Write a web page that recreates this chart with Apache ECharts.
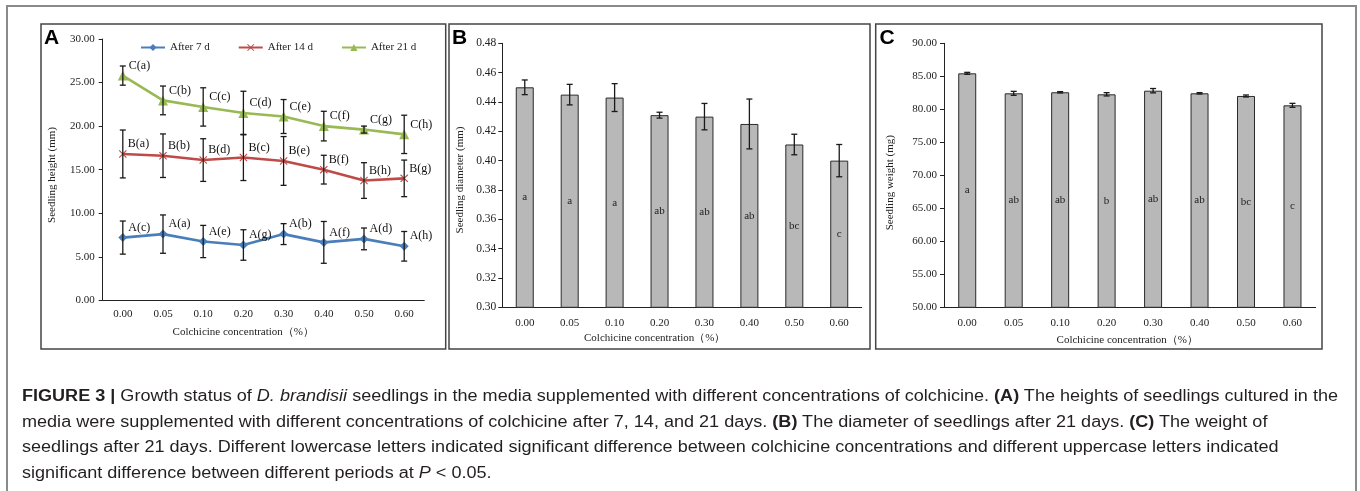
<!DOCTYPE html>
<html><head><meta charset="utf-8">
<script src="https://cdn.jsdelivr.net/npm/echarts@6/dist/echarts.min.js"></script>
<style>
html,body{margin:0;padding:0;background:#fff;}
#chart{position:absolute;left:0;top:0;width:1360px;height:491px;}
#cap{position:absolute;left:22px;top:383px;font-family:"Liberation Sans",Arial,sans-serif;font-size:16px;line-height:25.5px;color:#231f20;white-space:nowrap;transform-origin:0 0;}
#cap div{white-space:nowrap;}
</style></head><body>
<div id="chart"></div>
<div id="cap">
<div><b>FIGURE 3 |</b> Growth status of <i>D. brandisii</i> seedlings in the media supplemented with different concentrations of colchicine. <b>(A)</b> The heights of seedlings cultured in the</div>
<div>media were supplemented with different concentrations of colchicine after 7, 14, and 21 days. <b>(B)</b> The diameter of seedlings after 21 days. <b>(C)</b> The weight of</div>
<div>seedlings after 21 days. Different lowercase letters indicated significant difference between colchicine concentrations and different uppercase letters indicated</div>
<div>significant difference between different periods at <i>P</i> &lt; 0.05.</div>
</div>
<script>
// ---------------- data ----------------
const categories = ['0.00','0.05','0.10','0.20','0.30','0.40','0.50','0.60'];
const heightNames = ['After 7 d','After 14 d','After 21 d'];
const height7 = [7.2, 7.6, 6.75, 6.35, 7.6, 6.65, 7.05, 6.2];
const height7Err = [1.9, 2.2, 1.85, 1.75, 1.2, 2.4, 1.25, 1.7];
const height7Labels = ['A(c)','A(a)','A(e)','A(g)','A(b)','A(f)','A(d)','A(h)'];
const height14 = [16.8, 16.6, 16.1, 16.4, 16.0, 15.0, 13.75, 14.0];
const height14Err = [2.75, 2.5, 2.45, 2.65, 2.8, 1.65, 2.05, 2.1];
const height14Labels = ['B(a)','B(b)','B(d)','B(c)','B(e)','B(f)','B(h)','B(g)'];
const height21 = [25.8, 22.95, 22.2, 21.5, 21.1, 20.0, 19.6, 19.05];
const height21Err = [1.1, 1.65, 2.2, 2.5, 1.95, 1.7, 0.4, 2.2];
const height21Labels = ['C(a)','C(b)','C(c)','C(d)','C(e)','C(f)','C(g)','C(h)'];
const diameter = [0.450, 0.445, 0.443, 0.431, 0.430, 0.425, 0.411, 0.400];
const diameterErr = [0.005, 0.007, 0.0095, 0.002, 0.009, 0.017, 0.007, 0.011];
const diameterLetters = ['a','a','a','ab','ab','ab','bc','c'];
const weight = [85.45, 82.42, 82.58, 82.27, 82.82, 82.42, 82.02, 80.6];
const weightErr = [0.15, 0.3, 0.1, 0.25, 0.33, 0.1, 0.15, 0.3];
const weightLetters = ['a','ab','ab','b','ab','ab','bc','c'];
const heightAxisRange = [0, 30, 5];
const diameterAxisRange = [0.30, 0.48, 0.02];
const weightAxisRange = [50, 90, 5];
const panelLetters = ['A','B','C'];
const axisTitles = ['Seedling height (mm)','Seedling diameter (mm)','Seedling weight (mg)'];
const xTitle = 'Colchicine concentration（%）';

// ---------------- chart ----------------
const SERIF = '"Liberation Serif","Times New Roman",serif';
const chart = echarts.init(document.getElementById('chart'), null, {renderer:'canvas'});

function errData(vals, errs){ return vals.map((v,i)=>[i, v-errs[i], v+errs[i]]); }
function errRender(params, api){
  const x = api.value(0);
  const pHi = api.coord([x, api.value(2)]);
  const pLo = api.coord([x, api.value(1)]);
  const w = 3;
  const style = {stroke:'#1a1a1a', lineWidth:1.3, fill:null};
  return {type:'group', children:[
    {type:'line', shape:{x1:pHi[0],y1:pHi[1],x2:pLo[0],y2:pLo[1]}, style},
    {type:'line', shape:{x1:pHi[0]-w,y1:pHi[1],x2:pHi[0]+w,y2:pHi[1]}, style},
    {type:'line', shape:{x1:pLo[0]-w,y1:pLo[1],x2:pLo[0]+w,y2:pLo[1]}, style}
  ]};
}
function xAxis(gi, fs, margin){
  return {type:'category', gridIndex:gi, data:categories, boundaryGap:true,
    axisLine:{lineStyle:{color:'#222', width:1}},
    axisTick:{inside:true, length:4, lineStyle:{color:'#222'}},
    axisLabel:{fontFamily:SERIF, fontSize:fs, color:'#222', margin:margin},
    splitLine:{show:false}};
}
function yAxis(gi, r, fs, margin){
  return {type:'value', gridIndex:gi, min:r[0], max:r[1], interval:r[2],
    axisLine:{show:true, lineStyle:{color:'#222', width:1}},
    axisTick:{show:true, inside:false, length:4, lineStyle:{color:'#222'}},
    axisLabel:{fontFamily:SERIF, fontSize:fs, color:'#222', margin:margin,
      formatter:(v)=>v.toFixed(2)},
    splitLine:{show:false}};
}
const crossPath = 'path://M0,1L1,0L5,4L9,0L10,1L6,5L10,9L9,10L5,6L1,10L0,9L4,5Z';
const colors = ['#4A7EBB','#BE4B48','#98B954'];
function lineSeries(name, data, labels, color, symbol, size){
  return {type:'line', name:name, xAxisIndex:0, yAxisIndex:0, data:data,
    symbol:symbol, symbolSize:size, showAllSymbol:true,
    lineStyle:{color:color, width:2.6}, itemStyle:{color:color},
    label:{show:true, position:'right', distance:1, offset:[0,-10],
      formatter:(p)=>labels[p.dataIndex], fontFamily:SERIF, fontSize:12, color:'#111'},
    z:3};
}
function errSeries(name, xi, yi, vals, errs){
  return {type:'custom', name:name, xAxisIndex:xi, yAxisIndex:yi,
    data:errData(vals, errs), renderItem:errRender, z:5, silent:true};
}
function barSeries(xi, yi, data, letters){
  return {type:'bar', xAxisIndex:xi, yAxisIndex:yi, data:data, barWidth:18,
    itemStyle:{color:'#B8B8B8', borderColor:'#2a2a2a', borderWidth:1},
    label:{show:true, position:'inside', formatter:(p)=>letters[p.dataIndex],
      fontFamily:SERIF, fontSize:11, color:'#222'},
    z:2, silent:true};
}

function txt(x, y, text, opt){
  return Object.assign({type:'text', x:x, y:y, silent:true,
    style:Object.assign({text:text, fontFamily:SERIF, fontSize:11, fill:'#222',
      textAlign:'center', textVerticalAlign:'middle'}, opt && opt.style)},
    opt && opt.extra);
}
function rect(x, y, w, h, stroke, lw){
  return {type:'rect', shape:{x:x,y:y,width:w,height:h}, silent:true,
    style:{fill:null, stroke:stroke, lineWidth:lw}, z:-1};
}
function letter(x, y, t){
  return {type:'text', x:x, y:y, silent:true,
    style:{text:t, fontFamily:'"Liberation Sans",Arial,sans-serif', fontWeight:'bold',
      fontSize:21, fill:'#000', textAlign:'left', textVerticalAlign:'top'}};
}

const option = {
  animation:false,
  backgroundColor:'#fff',
  grid:[
    {left:102.7, top:39, width:321.6, height:261.3},
    {left:502.3, top:43.3, width:359.4, height:264},
    {left:944, top:43.3, width:371.7, height:264}
  ],
  xAxis:[xAxis(0, 11, 8), xAxis(1, 11, 10), xAxis(2, 11, 10)],
  yAxis:[yAxis(0, heightAxisRange, 11, 8), yAxis(1, diameterAxisRange, 11.5, 6), yAxis(2, weightAxisRange, 11, 7)],
  legend:{data:heightNames, left:140, top:42, padding:0, itemWidth:24, itemHeight:9, itemGap:28,
    textStyle:{fontFamily:SERIF, fontSize:11, color:'#222'}, selectedMode:false},
  series:[
    lineSeries(heightNames[0], height7, height7Labels, colors[0], 'diamond', 9),
    lineSeries(heightNames[1], height14, height14Labels, colors[1], crossPath, 8),
    lineSeries(heightNames[2], height21, height21Labels, colors[2], 'triangle', 10),
    errSeries('e7', 0, 0, height7, height7Err),
    errSeries('e14', 0, 0, height14, height14Err),
    errSeries('e21', 0, 0, height21, height21Err),
    barSeries(1, 1, diameter, diameterLetters),
    errSeries('ed', 1, 1, diameter, diameterErr),
    barSeries(2, 2, weight, weightLetters),
    errSeries('ew', 2, 2, weight, weightErr)
  ],
  graphic:[
    {type:'polyline', shape:{points:[[7,491],[7,6],[1356,6],[1356,491]]}, silent:true,
      style:{fill:null, stroke:'#8a8a8a', lineWidth:2}},
    rect(41, 24, 404.7, 325, '#444', 1.5),
    rect(449, 24, 421, 325, '#444', 1.5),
    rect(875.7, 24, 446.3, 325, '#444', 1.5),
    letter(44, 28, panelLetters[0]),
    letter(452, 28, panelLetters[1]),
    letter(879.5, 28, panelLetters[2]),
    txt(52, 175, axisTitles[0], {extra:{rotation:Math.PI/2}}),
    txt(460, 180, axisTitles[1], {extra:{rotation:Math.PI/2}}),
    txt(890, 182.7, axisTitles[2], {extra:{rotation:Math.PI/2}}),
    txt(243.3, 331.7, xTitle),
    txt(654.7, 337.7, xTitle),
    txt(1127.3, 340, xTitle)
  ]
};
chart.setOption(option);

// fit caption to reference line width
(function(){
  const cap = document.getElementById('cap');
  const first = cap.children[0];
  const r = document.createRange(); r.selectNodeContents(first);
  const w = r.getBoundingClientRect().width;
  const target = 1316;
  if (w > 0) cap.style.transform = 'scaleX(' + (target / w) + ')';
})();
</script>
</body></html>
